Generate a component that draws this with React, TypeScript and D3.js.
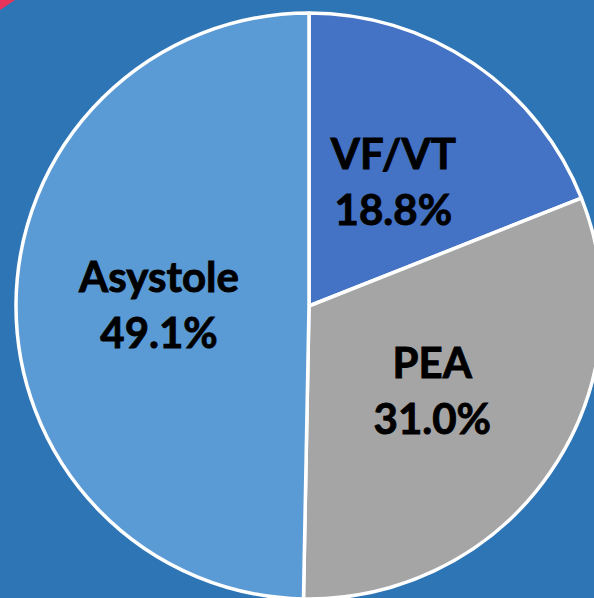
import { useEffect, useRef } from "react";
import * as d3 from "d3";

// slice labels, the percentages printed on them, and the share each slice takes in the drawing
const categories = ["VF/VT", "PEA", "Asystole"];
const labelValues = ["18.8%", "31.0%", "49.1%"];
const shares = [19.0, 31.3, 49.7];
const colors = ["#4472C4", "#A5A5A5", "#5B9BD5"];

type Slice = { name: string; label: string; share: number; color: string };

export default function App() {
  const svgRef = useRef<SVGSVGElement | null>(null);

  useEffect(() => {
    const width = 594;
    const height = 598;
    const cx = 309;
    const cy = 306;
    const radius = 293;

    const data: Slice[] = categories.map((name, i) => ({
      name,
      label: labelValues[i],
      share: shares[i],
      color: colors[i],
    }));

    const svg = d3.select(svgRef.current);
    svg.selectAll("*").remove();
    svg.attr("width", width).attr("height", height).attr("viewBox", `0 0 ${width} ${height}`);

    svg.append("rect").attr("width", width).attr("height", height).attr("fill", "#2E75B6");

    // corner of a shape from the slide behind
    svg.append("polygon").attr("points", "0,0 15,0 0,10").attr("fill", "#E8345A");

    const pie = d3.pie<Slice>().value((d) => d.share).sort(null);
    const arc = d3.arc<d3.PieArcDatum<Slice>>().innerRadius(0).outerRadius(radius);
    const labelArc = d3.arc<d3.PieArcDatum<Slice>>().innerRadius(0).outerRadius(300);

    const g = svg.append("g").attr("transform", `translate(${cx},${cy})`);
    const arcs = pie(data);

    g.selectAll("path.slice")
      .data(arcs)
      .enter()
      .append("path")
      .attr("class", "slice")
      .attr("d", arc)
      .attr("fill", (d) => d.data.color)
      .attr("stroke", "#fff")
      .attr("stroke-width", 3.5)
      .attr("stroke-linejoin", "round");

    const labels = g
      .selectAll("text.lbl")
      .data(arcs)
      .enter()
      .append("text")
      .attr("class", "lbl")
      .attr("transform", (d) => `translate(${labelArc.centroid(d)})`)
      .attr("text-anchor", "middle")
      .style("font-family", "Lato, 'Liberation Sans', sans-serif")
      .style("font-weight", 700)
      .style("font-size", "42px")
      .attr("fill", "#000")
      .attr("stroke", "#000")
      .attr("stroke-width", 0.9);

    labels.append("tspan").attr("x", 0).attr("y", -13).text((d) => d.data.name);
    labels.append("tspan").attr("x", 0).attr("y", 43).text((d) => d.data.label);
  }, []);

  return (
    <div style={{ position: "fixed", left: 0, top: 0 }}>
      <svg ref={svgRef} style={{ display: "block" }} />
    </div>
  );
}
